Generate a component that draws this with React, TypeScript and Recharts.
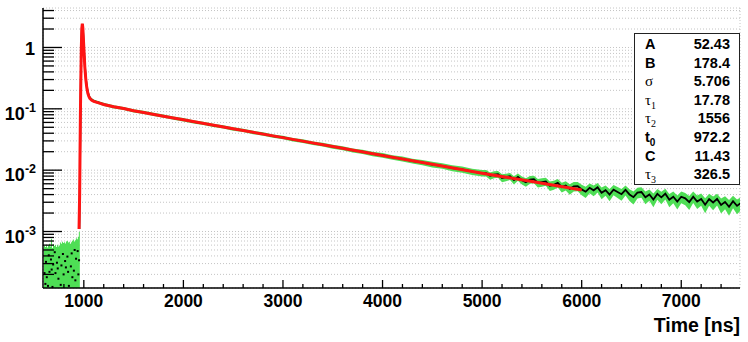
import React from 'react';
import { ComposedChart, XAxis, YAxis, CartesianGrid, Area, Line, Scatter } from 'recharts';

// ---------- layout ----------
const CHART_W = 748;
const CHART_H = 342;
const MARGIN = { top: 8, right: 8, left: 0, bottom: 0 };
const Y_AXIS_W = 43;
const X_AXIS_H = 54;
const PLOT_LEFT = MARGIN.left + Y_AXIS_W;
const PLOT_BOTTOM = CHART_H - MARGIN.bottom - X_AXIS_H;
const FONT = "'Liberation Sans', Arial, Helvetica, sans-serif";
const GREEK = "'Liberation Serif', 'DejaVu Serif', serif";

// ---------- axes ----------
const X_DOMAIN: [number, number] = [590, 7590];
const Y_DOMAIN: [number, number] = [0.00012, 4.4];
const xTicks = [800, 1000, 1200, 1400, 1600, 1800, 2000, 2200, 2400, 2600, 2800, 3000, 3200, 3400, 3600, 3800,
  4000, 4200, 4400, 4600, 4800, 5000, 5200, 5400, 5600, 5800, 6000, 6200, 6400, 6600, 6800, 7000, 7200, 7400];
const xMajorTicks = [1000, 2000, 3000, 4000, 5000, 6000, 7000];
const yTicks = [
  0.0002, 0.0003, 0.0004, 0.0005, 0.0006, 0.0007, 0.0008, 0.0009,
  0.001, 0.002, 0.003, 0.004, 0.005, 0.006, 0.007, 0.008, 0.009,
  0.01, 0.02, 0.03, 0.04, 0.05, 0.06, 0.07, 0.08, 0.09,
  0.1, 0.2, 0.3, 0.4, 0.5, 0.6, 0.7, 0.8, 0.9,
  1, 2, 3, 4,
];
const xTitle = 'Time [ns]';

// ---------- fit parameters ----------
const statNames = ['A', 'B', 'σ', 'τ1', 'τ2', 't0', 'C', 'τ3'];
const statValues = ['52.43', '178.4', '5.706', '17.78', '1556', '972.2', '11.43', '326.5'];

// ---------- data ----------
// pre-pulse background: upper edge of the error band [time, top]
const prePulseTop: [number, number][] = [
  [600, 0.00058], [610, 0.00056], [620, 0.00061], [630, 0.00055], [640, 0.00059], [650, 0.00063],
  [660, 0.00057], [670, 0.00076], [680, 0.00054], [690, 0.00062], [700, 0.00058], [710, 0.0006],
  [720, 0.00056], [730, 0.00061], [740, 0.00057], [750, 0.00059], [760, 0.00066], [770, 0.00063],
  [780, 0.00068], [790, 0.00065], [800, 0.00067], [810, 0.00064], [820, 0.00069], [830, 0.0007],
  [840, 0.00066], [850, 0.00068], [860, 0.00063], [870, 0.00067], [880, 0.00071], [890, 0.00074],
  [900, 0.00069], [910, 0.00072], [920, 0.00078], [930, 0.00075], [940, 0.00082], [950, 0.00098], [960, 0.0011],
];
// pre-pulse measured counts [time, value]
const prePulseCounts: [number, number][] = [
  [605, 0.00021], [614, 0.00014], [620, 0.00032], [628, 0.00018], [640, 0.00013],
  [648, 0.00041], [655, 0.00022], [670, 0.00035], [677, 0.00024], [685, 0.000125],
  [692, 0.00029], [708, 0.00046], [715, 0.00021], [730, 0.00031],
  [738, 0.00025], [745, 0.00017], [752, 0.00038], [768, 0.000135], [775, 0.00028],
  [790, 0.00043], [797, 0.0002], [812, 0.00033], [820, 0.00026],
  [835, 0.00039], [842, 0.00022], [850, 0.00013], [870, 0.00027], [878, 0.00044],
  [885, 0.00018], [900, 0.00023], [908, 0.0005], [915, 0.00016], [922, 0.00036],
  [938, 0.00048], [945, 0.0002], [952, 0.00034],
];
// main measured histogram [time, value, error]
const measured: [number, number, number][] = [
  [955, 0.0011, 0.0003], [960, 0.006, 0.0008], [965, 0.04, 0.004], [970, 0.3, 0.02],
  [975, 1.1, 0.05], [980, 2.1, 0.09], [985, 2.4, 0.1], [990, 2.15, 0.09], [995, 1.55, 0.07],
  [1000, 1.05, 0.05], [1005, 0.74, 0.035], [1010, 0.52, 0.025], [1020, 0.32, 0.016], [1030, 0.232, 0.012],
  [1040, 0.19, 0.01], [1050, 0.166, 0.009], [1060, 0.152, 0.0085], [1080, 0.141, 0.008], [1100, 0.134, 0.0078],
  [1150, 0.126, 0.0073], [1200, 0.1182, 0.007], [1300, 0.1079, 0.0065], [1400, 0.1015, 0.006],
  [1500, 0.0929, 0.0056], [1600, 0.0874, 0.0052], [1700, 0.081, 0.0049], [1800, 0.0762, 0.0046],
  [1900, 0.0705, 0.0043], [2000, 0.0664, 0.0042], [2100, 0.0615, 0.0039], [2200, 0.0581, 0.0037],
  [2300, 0.0538, 0.0034], [2400, 0.0509, 0.0032], [2500, 0.0471, 0.003], [2600, 0.0445, 0.0028],
  [2700, 0.0412, 0.0026], [2800, 0.0389, 0.0025], [2900, 0.036, 0.0023], [3000, 0.0341, 0.0023],
  [3100, 0.0315, 0.0021], [3200, 0.0298, 0.002], [3300, 0.0275, 0.0019], [3400, 0.0261, 0.0018],
  [3500, 0.0241, 0.0018], [3600, 0.0229, 0.0017], [3700, 0.021, 0.0016], [3800, 0.02, 0.0016],
  [3900, 0.0184, 0.0015], [4000, 0.0175, 0.0015], [4100, 0.01612, 0.0014], [4200, 0.0153, 0.0014],
  [4300, 0.0141, 0.0013], [4400, 0.01338, 0.0013], [4500, 0.01236, 0.0013], [4600, 0.01172, 0.0012],
  [4700, 0.01078, 0.0012], [4800, 0.01026, 0.0012], [4900, 0.00944, 0.0011], [5000, 0.00898, 0.0011],
  [5040, 0.00897, 0.0011], [5080, 0.00808, 0.0011], [5120, 0.00849, 0.0011], [5160, 0.00862, 0.00109],
  [5200, 0.00746, 0.00108], [5240, 0.00768, 0.00107], [5280, 0.00797, 0.00106], [5320, 0.00689, 0.00105],
  [5360, 0.00775, 0.00104], [5400, 0.00687, 0.00103], [5440, 0.00637, 0.00102], [5480, 0.00703, 0.00101],
  [5520, 0.00714, 0.001], [5560, 0.0062, 0.001], [5600, 0.00637, 0.00099], [5640, 0.00654, 0.00099],
  [5680, 0.00555, 0.00098], [5720, 0.00577, 0.00098], [5760, 0.00621, 0.00097], [5800, 0.00528, 0.00097],
  [5840, 0.00561, 0.00096], [5880, 0.00494, 0.00096], [5920, 0.00546, 0.00095], [5960, 0.00549, 0.00095],
  [6000, 0.00486, 0.00095], [6040, 0.00445, 0.00094], [6080, 0.00515, 0.00093], [6120, 0.00469, 0.00093],
  [6160, 0.00524, 0.00092], [6200, 0.00428, 0.00092], [6240, 0.00472, 0.00091], [6280, 0.00401, 0.0009],
  [6320, 0.00481, 0.0009], [6360, 0.00442, 0.00089], [6400, 0.00406, 0.00089], [6440, 0.00476, 0.00088],
  [6480, 0.00402, 0.00087], [6520, 0.00363, 0.00087], [6560, 0.0043, 0.00086], [6600, 0.0044, 0.00086],
  [6640, 0.00362, 0.00085], [6680, 0.00401, 0.00084], [6720, 0.00333, 0.00084], [6760, 0.00411, 0.00083],
  [6800, 0.00361, 0.00083], [6840, 0.00414, 0.00082], [6880, 0.00329, 0.00081], [6920, 0.00369, 0.00081],
  [6960, 0.00308, 0.0008], [7000, 0.00369, 0.0008], [7040, 0.00347, 0.00079], [7080, 0.00302, 0.00078],
  [7120, 0.0037, 0.00078], [7160, 0.00309, 0.00077], [7200, 0.00339, 0.00077], [7240, 0.00274, 0.00076],
  [7280, 0.00338, 0.00075], [7320, 0.00297, 0.00075], [7360, 0.0034, 0.00074], [7400, 0.0027, 0.00074],
  [7440, 0.00304, 0.00073], [7480, 0.00253, 0.00072], [7520, 0.00312, 0.00072], [7560, 0.00262, 0.00071],
  [7600, 0.00294, 0.00071],
];
// fitted function [time, value]
const fitCurve: [number, number][] = [
  [952, 0.0011], [958, 0.004], [962, 0.02], [966, 0.09], [970, 0.3], [975, 1.0], [980, 2.05], [985, 2.45],
  [990, 2.1], [995, 1.45], [1000, 1.0], [1005, 0.7], [1010, 0.48], [1020, 0.3], [1030, 0.22], [1040, 0.18],
  [1050, 0.16], [1060, 0.148], [1080, 0.138], [1100, 0.132], [1150, 0.125], [1200, 0.1175], [1300, 0.1084],
  [1400, 0.1012], [1500, 0.0933], [1600, 0.0871], [1800, 0.0759], [2000, 0.0661], [2500, 0.0473],
  [3000, 0.0339], [3500, 0.0243], [4000, 0.0174], [4500, 0.01245], [5000, 0.00891], [5500, 0.00653],
  [6000, 0.00474],
];

// tables for the library
const preBandData = prePulseTop.map(([t, top]) => ({ t, band: [Y_DOMAIN[0], top] }));
const preDotData = prePulseCounts.map(([t, v]) => ({ t, v }));
const bandData = measured.map(([t, v, e]) => ({ t, band: [v - e, v + e] }));
const lineData = measured.map(([t, v]) => ({ t, v }));
const fitData = fitCurve.map(([t, v]) => ({ t, v }));

const GREEN = '#4ede55';
const RED = '#ff1414';

const isMajorY = (v: number) => Math.abs(Math.log10(v) - Math.round(Math.log10(v))) < 1e-6;

const XTick = (props: any) => {
  const { x, payload } = props;
  const v = payload.value as number;
  const major = v % 1000 === 0;
  return (
    <g>
      <line x1={x} x2={x} y1={PLOT_BOTTOM} y2={PLOT_BOTTOM - (major ? 8 : 4)} stroke="#000" strokeWidth={1.3} />
      {major && (
        <text x={x} y={PLOT_BOTTOM + 19} textAnchor="middle" fontFamily={FONT} fontWeight="bold" fontSize={17.5} fill="#000">
          {v}
        </text>
      )}
    </g>
  );
};

const YTick = (props: any) => {
  const { y, payload } = props;
  const v = payload.value as number;
  const major = isMajorY(v);
  const exp = Math.round(Math.log10(v));
  return (
    <g>
      <line x1={PLOT_LEFT} x2={PLOT_LEFT + (major ? 19 : 11)} y1={y} y2={y} stroke="#000" strokeWidth={1.3} />
      {major && exp === 0 && (
        <text x={PLOT_LEFT - 8} y={y + 8} textAnchor="end" fontFamily={FONT} fontWeight="bold" fontSize={18} fill="#000">
          1
        </text>
      )}
      {major && exp !== 0 && (
        <text x={PLOT_LEFT - 7} y={y + 11} textAnchor="end" fontFamily={FONT} fontWeight="bold" fontSize={18} fill="#000">
          <tspan>10</tspan>
          <tspan dy={-8} fontSize={12.5}>{String(exp)}</tspan>
        </text>
      )}
    </g>
  );
};

const Dot = (props: any) => {
  const { cx, cy } = props;
  if (cx == null || cy == null) return null;
  return <rect x={cx - 1} y={cy - 1} width={2} height={2} fill="#000" />;
};

const StatLabel = ({ name }: { name: string }) => {
  const first = name.charAt(0);
  const sub = name.slice(1);
  const greek = first === 'σ' || first === 'τ';
  return (
    <span style={{ fontFamily: greek ? GREEK : FONT, fontWeight: greek ? 'normal' : 'bold', fontSize: greek ? 15 : 14.5, color: '#000' }}>
      {first}
      {sub && <sub style={{ fontSize: 10, verticalAlign: 'baseline', position: 'relative', top: 4, fontFamily: greek ? GREEK : FONT }}>{sub}</sub>}
    </span>
  );
};

export default function App() {
  return (
    <div style={{ position: 'absolute', left: 0, top: 0, width: CHART_W, height: CHART_H, background: '#fff' }}>
      <ComposedChart width={CHART_W} height={CHART_H} margin={MARGIN}>
        <CartesianGrid xAxisId="top" stroke="#c4c4c4" strokeDasharray="1 2" strokeWidth={1} />
        <Area data={preBandData} dataKey="band" type="stepAfter" fill={GREEN} fillOpacity={1} stroke="none" isAnimationActive={false} />
        <Area data={bandData} dataKey="band" type="linear" fill={GREEN} fillOpacity={1} stroke="none" isAnimationActive={false} />
        <Scatter data={preDotData} dataKey="v" shape={<Dot />} isAnimationActive={false} />
        <Line data={lineData} dataKey="v" type="linear" stroke="#000" strokeWidth={1.8} dot={false} isAnimationActive={false} />
        <Line data={fitData} dataKey="v" type="linear" stroke={RED} strokeWidth={3} dot={false} isAnimationActive={false} />
        <XAxis
          dataKey="t"
          type="number"
          domain={X_DOMAIN}
          ticks={xTicks}
          interval={0}
          tick={<XTick />}
          tickLine={false}
          axisLine={{ stroke: '#000', strokeWidth: 1.5 }}
          height={X_AXIS_H}
          allowDataOverflow
        />
        <XAxis
          xAxisId="top"
          orientation="top"
          dataKey="t"
          type="number"
          domain={X_DOMAIN}
          ticks={xMajorTicks}
          interval={0}
          tick={false}
          tickLine={false}
          axisLine={{ stroke: '#000', strokeWidth: 1.2, strokeDasharray: '3 2' }}
          height={0}
          allowDataOverflow
        />
        <YAxis
          dataKey="v"
          type="number"
          scale="log"
          domain={Y_DOMAIN}
          ticks={yTicks}
          interval={0}
          tick={<YTick />}
          tickLine={false}
          axisLine={{ stroke: '#000', strokeWidth: 1.5 }}
          width={Y_AXIS_W}
          allowDataOverflow
        />
        <YAxis
          yAxisId="right"
          orientation="right"
          type="number"
          scale="log"
          domain={Y_DOMAIN}
          tick={false}
          tickLine={false}
          axisLine={{ stroke: '#000', strokeWidth: 1.5 }}
          width={0}
          allowDataOverflow
        />
      </ComposedChart>
      <div
        style={{
          position: 'absolute', left: 740, top: 314, transform: 'translateX(-100%)', whiteSpace: 'nowrap',
          fontFamily: FONT, fontWeight: 'bold', fontSize: 19.5, lineHeight: '22px', color: '#000',
        }}
      >
        {xTitle}
      </div>
      <div
        style={{
          position: 'absolute', left: 634, top: 33, width: 106, height: 152, boxSizing: 'border-box',
          border: '1.5px solid #222', background: '#fff', paddingTop: 1, paddingLeft: 10, paddingRight: 9,
        }}
      >
        {statNames.map((n, i) => (
          <div key={n} style={{ display: 'flex', justifyContent: 'space-between', height: 18.6, lineHeight: '18.6px', color: '#000' }}>
            <StatLabel name={n} />
            <span style={{ fontFamily: FONT, fontWeight: 'bold', fontSize: 14.5 }}>{statValues[i]}</span>
          </div>
        ))}
      </div>
    </div>
  );
}
